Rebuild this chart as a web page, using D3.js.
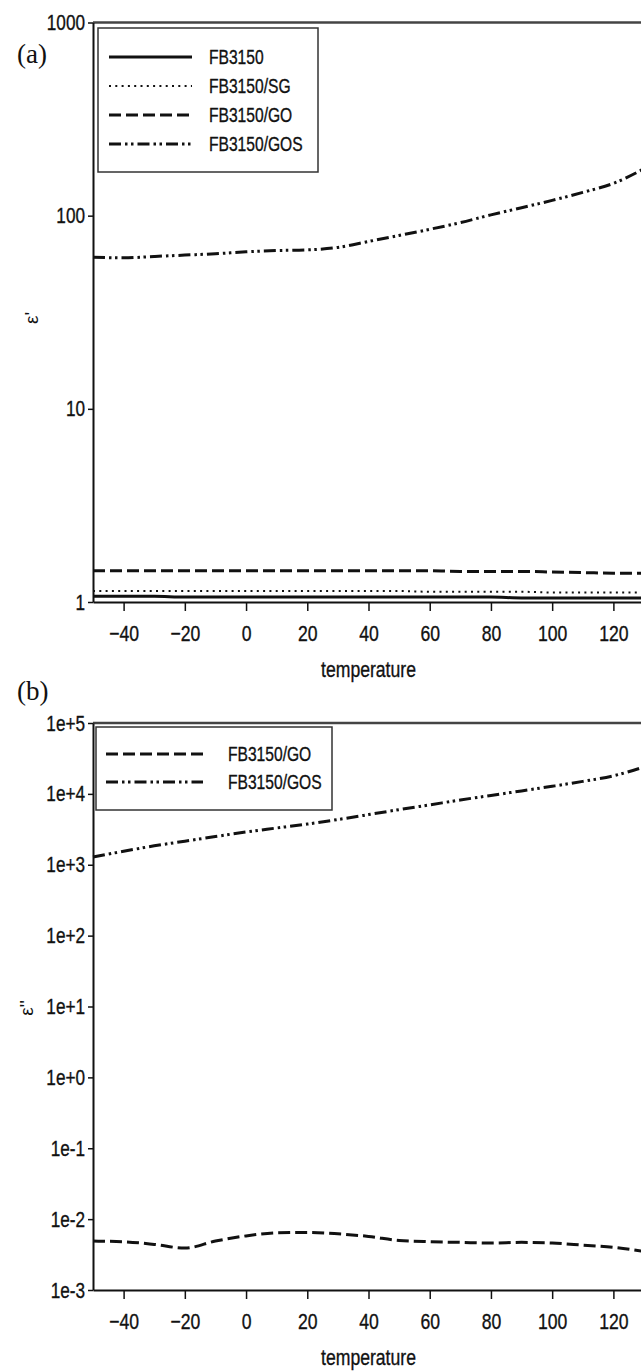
<!DOCTYPE html>
<html lang="en">
<head>
    <meta charset="UTF-8">
    <script src="https://d3js.org/d3.v7.min.js"></script>
    <title>Document</title>
    <style>
        body { margin: 0; background: #fff; }
        text { font-family: "Liberation Sans", Arial, sans-serif; fill: #111; }
    </style>
</head>
<body>
    <div id="container"></div>
    <script>
        const width = 641, height = 1372;

        // data (a) : epsilon'
        const tempA = [-50, -40, -30, -20, -10, 0, 10, 20, 30, 40, 50, 60, 70, 80, 90, 100, 110, 120, 130];
        const fb3150 = [1.07, 1.07, 1.07, 1.06, 1.06, 1.06, 1.06, 1.06, 1.06, 1.06, 1.06, 1.06, 1.06, 1.06, 1.05, 1.05, 1.05, 1.05, 1.05];
        const fb3150SG = [1.14, 1.14, 1.14, 1.14, 1.14, 1.14, 1.14, 1.14, 1.14, 1.14, 1.14, 1.13, 1.13, 1.13, 1.13, 1.12, 1.12, 1.12, 1.12];
        const fb3150GO = [1.45, 1.45, 1.45, 1.45, 1.45, 1.45, 1.45, 1.45, 1.45, 1.45, 1.45, 1.45, 1.44, 1.44, 1.44, 1.43, 1.42, 1.41, 1.41];
        const fb3150GOS = [61, 60.5, 61.5, 62.5, 63.5, 65, 66, 66.5, 68.5, 73.5, 79, 85, 92, 101, 110, 120, 132, 147, 175];

        // data (b) : epsilon''
        const tempB = [-50, -40, -30, -20, -10, 0, 10, 20, 30, 40, 50, 60, 70, 80, 90, 100, 110, 120, 130];
        const goB = [0.0049, 0.0048, 0.0044, 0.0039, 0.0049, 0.0058, 0.0064, 0.0065, 0.0062, 0.0057, 0.0050, 0.0048, 0.0047, 0.0046, 0.0047, 0.0046, 0.0043, 0.0040, 0.0035];
        const gosB = [1290, 1550, 1850, 2150, 2500, 2900, 3300, 3750, 4350, 5100, 6000, 7000, 8200, 9500, 11000, 12800, 15000, 18000, 24000];

        const xTicks = [-40, -20, 0, 20, 40, 60, 80, 100, 120];
        const yTicksA = [1, 10, 100, 1000];
        const yTicksB = [1e-3, 1e-2, 1e-1, 1e0, 1e1, 1e2, 1e3, 1e4, 1e5];
        const legendA = ["FB3150", "FB3150/SG", "FB3150/GO", "FB3150/GOS"];
        const legendB = ["FB3150/GO", "FB3150/GOS"];

        const dashes = { solid: null, dot: "2 4.3", dash: "12 5", dashdot: "12 4 2.5 3.5 2.5 4" };

        const svg = d3.select("#container")
            .append("svg")
            .attr("width", width)
            .attr("height", height);

        // squeeze text horizontally like the condensed font of the original
        function squeeze(sel, k) {
            sel.each(function () {
                let len = this.getComputedTextLength();
                d3.select(this)
                    .attr("textLength", len * k)
                    .attr("lengthAdjust", "spacingAndGlyphs")
                    .attr("stroke", "#111")
                    .attr("stroke-width", 0.35);
            });
        }

        let x = d3.scaleLinear().domain([-50, 130]).range([93, 644]);

        function panel(cfg) {
            let y = d3.scaleLog().domain(cfg.domain).range([cfg.bottom, cfg.top]);
            let g = svg.append("g");

            // top frame line
            g.append("line")
                .attr("x1", x.range()[0]).attr("x2", x.range()[1])
                .attr("y1", cfg.top).attr("y2", cfg.top)
                .attr("stroke", "#444").attr("stroke-width", 2.5);

            let ax = g.append("g")
                .attr("transform", `translate(0,${cfg.bottom})`)
                .call(d3.axisBottom(x).tickValues(xTicks).tickSize(9).tickSizeOuter(0).tickPadding(14));
            ax.select(".domain").attr("stroke", "#111").attr("stroke-width", 2);
            ax.selectAll(".tick line").attr("stroke", "#111").attr("stroke-width", 1.5);
            ax.selectAll("text").attr("font-size", 22).attr("fill", "#111").call(squeeze, 0.8);

            let ay = g.append("g")
                .attr("transform", `translate(${x.range()[0]},0)`)
                .call(d3.axisLeft(y).tickValues(cfg.ticks).tickFormat(cfg.fmt).tickSize(5).tickSizeOuter(0).tickPadding(3));
            ay.select(".domain").attr("stroke", "#111").attr("stroke-width", 2);
            ay.selectAll(".tick line").attr("stroke", "#111").attr("stroke-width", 1.5);
            ay.selectAll("text").attr("font-size", 22).attr("fill", "#111").call(squeeze, 0.78);

            // x title
            g.append("text")
                .attr("x", (x.range()[0] + x.range()[1]) / 2)
                .attr("y", cfg.bottom + 75)
                .attr("text-anchor", "middle")
                .attr("font-size", 22)
                .text("temperature")
                .call(squeeze, 0.8);

            // y title
            g.append("text")
                .attr("transform", `translate(${cfg.ytx},${cfg.yty}) rotate(-90)`)
                .attr("text-anchor", "middle")
                .attr("font-size", 19)
                .text(cfg.ytitle);

            // panel letter
            g.append("text")
                .attr("x", 17).attr("y", cfg.letterY)
                .attr("font-size", 27)
                .style("font-family", "'Liberation Serif', 'Times New Roman', serif")
                .text(cfg.letter);

            let line = d3.line().x(d => x(d[0])).y(d => y(d[1])).curve(d3.curveMonotoneX);
            cfg.series.forEach(s => {
                g.append("path")
                    .datum(cfg.temps.map((t, i) => [t, s.values[i]]))
                    .attr("d", line)
                    .attr("fill", "none")
                    .attr("stroke", "#111")
                    .attr("stroke-width", s.w)
                    .attr("stroke-dasharray", dashes[s.style]);
            });

            // legend
            let lg = g.append("g");
            lg.append("rect")
                .attr("x", cfg.legend.x).attr("y", cfg.legend.y)
                .attr("width", cfg.legend.w).attr("height", cfg.legend.h)
                .attr("fill", "#fff").attr("stroke", "#333").attr("stroke-width", 1.5);
            cfg.series.forEach((s, i) => {
                let ry = cfg.legend.rowY + i * cfg.legend.step;
                lg.append("line")
                    .attr("x1", cfg.legend.lx1).attr("x2", cfg.legend.lx2)
                    .attr("y1", ry).attr("y2", ry)
                    .attr("stroke", "#111").attr("stroke-width", s.w)
                    .attr("stroke-dasharray", dashes[s.style]);
                lg.append("text")
                    .attr("x", cfg.legend.tx).attr("y", ry)
                    .attr("dy", "0.36em")
                    .attr("font-size", 20)
                    .text(s.name)
                    .call(squeeze, 0.78);
            });
        }

        panel({
            domain: [1, 1000], top: 22.5, bottom: 602, ticks: yTicksA, fmt: d3.format("d"),
            temps: tempA, ytitle: "ε'", ytx: 38, yty: 318, letter: "(a)", letterY: 63,
            series: [
                { name: legendA[0], values: fb3150, style: "solid", w: 3 },
                { name: legendA[1], values: fb3150SG, style: "dot", w: 2 },
                { name: legendA[2], values: fb3150GO, style: "dash", w: 3 },
                { name: legendA[3], values: fb3150GOS, style: "dashdot", w: 3 }
            ],
            legend: { x: 98, y: 28, w: 220, h: 144, rowY: 57, step: 29, lx1: 109, lx2: 192, tx: 209 }
        });

        panel({
            domain: [1e-3, 1e5], top: 723, bottom: 1290, ticks: yTicksB, fmt: d3.format(".0e"),
            temps: tempB, ytitle: "ε''", ytx: 33, yty: 1008, letter: "(b)", letterY: 700,
            series: [
                { name: legendB[0], values: goB, style: "dash", w: 3 },
                { name: legendB[1], values: gosB, style: "dashdot", w: 3 }
            ],
            legend: { x: 96, y: 727, w: 236, h: 83, rowY: 754, step: 28, lx1: 106, lx2: 203, tx: 228 }
        });
    </script>
</body>
</html>
